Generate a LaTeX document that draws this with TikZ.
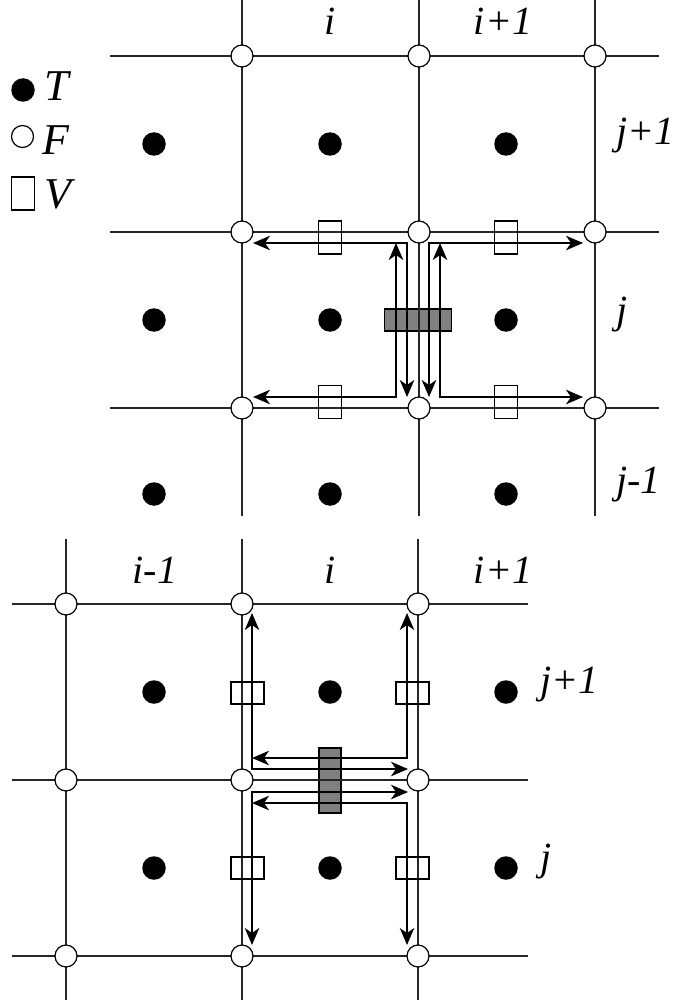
\documentclass[tikz,border=0pt]{standalone}
\usepackage{fontspec}
\setmainfont{Liberation Serif}
\newfontfamily\labfont{Liberation Serif Italic}
\usetikzlibrary{arrows.meta}
\begin{document}
\begin{tikzpicture}[x=1pt,y=-1pt,
  gridline/.style={line width=1.3pt, black!85},
  fnode/.style={circle, draw, fill=white, minimum size=22pt, inner sep=0pt, line width=1.2pt},
  tnode/.style={circle, fill=black, minimum size=23.5pt, inner sep=0pt},
  vbox/.style={draw, minimum width=23pt, minimum height=33pt, inner sep=0pt, line width=1.1pt},
  hvbox/.style={vbox, minimum width=33pt, minimum height=22pt},
  gbox/.style={draw, fill=black!50, inner sep=0pt, line width=1.1pt},
  flux/.style={line width=1.3pt, {Stealth[length=17pt,width=14.5pt,inset=5pt]}-{Stealth[length=17pt,width=14.5pt,inset=5pt]}},
  lab/.style={font=\labfont\fontsize{40}{42}\selectfont, inner sep=0pt},
  leg/.style={font=\labfont\fontsize{44}{46}\selectfont, inner sep=0pt, anchor=base west}
]
\useasboundingbox (0,0) rectangle (688,1003);

% ---------- legend ----------
\node[tnode] (legT) at (23,90) {};
\node[leg] (legTt) at (44,101) {T};
\node[fnode] (legF) at (22.5,136.5) {};
\node[leg] (legFt) at (42,155) {F};
\node[vbox] (legV) at (23,193.5) {};
\node[leg] (legVt) at (44,208) {V};

% ================= top diagram =================
\node[gbox, minimum width=67pt, minimum height=22pt] (g1) at (418,320) {};
% grid lines
\foreach \x in {242,419,595} \draw[gridline] (\x,0) -- (\x,516);
\foreach \y in {56,232,408} \draw[gridline] (110,\y) -- (659,\y);
% flux arrows
\draw[flux] (396,243) -- (396,397) -- (253,397);
\draw[flux] (253,243) -- (407,243) -- (407,397);
\draw[flux] (583,243) -- (429,243) -- (429,397);
\draw[flux] (440,243) -- (440,397) -- (583,397);
% V boxes
\node[vbox] (v1) at (330,237.5) {};
\node[vbox] (v2) at (506,237.5) {};
\node[vbox] (v3) at (330,402) {};
\node[vbox] (v4) at (506,402) {};
% F nodes
\foreach \x/\c in {242/a,419/b,595/c}
  \foreach \y/\r in {56/1,232/2,408/3}
    \node[fnode] (tf\c\r) at (\x,\y) {};
% T nodes
\foreach \x/\c in {154/a,330/b,506/c}
  \foreach \y/\r in {144/1,320/2,494/3}
    \node[tnode] (tt\c\r) at (\x,\y) {};
% labels
\node[lab, anchor=base] (ti) at (330,35) {i};
\node[lab, anchor=base] (ti1) at (503,35) {i+1};
\node[lab, anchor=base west] (tj1) at (616,145) {j+1};
\node[lab, anchor=base west] (tj) at (616,323) {j};
\node[lab, anchor=base west] (tjm) at (616,493) {j-1};

% ================= bottom diagram =================
\node[gbox, minimum width=22pt, minimum height=65pt] (g2) at (330,780.5) {};
\foreach \x in {66,242,418} \draw[gridline] (\x,539) -- (\x,1000);
\foreach \y in {604,780,956} \draw[gridline] (12,\y) -- (528,\y);
% flux arrows
\draw[flux] (252,758) -- (407,758) -- (407,613);
\draw[flux] (252,613) -- (252,769) -- (408,769);
\draw[flux] (408,792) -- (252,792) -- (252,945);
\draw[flux] (252,803) -- (407,803) -- (407,945);
% V boxes
\node[hvbox] (w1) at (247.5,693) {};
\node[hvbox] (w2) at (412.5,693) {};
\node[hvbox] (w3) at (247.5,868) {};
\node[hvbox] (w4) at (412.5,868) {};
% F nodes
\foreach \x/\c in {66/a,242/b,418/c}
  \foreach \y/\r in {604/1,780/2,956/3}
    \node[fnode] (bf\c\r) at (\x,\y) {};
% T nodes
\foreach \x/\c in {154/a,330/b,506/c}
  \foreach \y/\r in {692/1,868/2}
    \node[tnode] (bt\c\r) at (\x,\y) {};
% labels
\node[lab, anchor=base] (bim) at (155,583) {i-1};
\node[lab, anchor=base] (bi) at (330,583) {i};
\node[lab, anchor=base] (bi1) at (503,583) {i+1};
\node[lab, anchor=base west] (bj1) at (540,693) {j+1};
\node[lab, anchor=base west] (bj) at (540,870) {j};
\end{tikzpicture}
\end{document}
